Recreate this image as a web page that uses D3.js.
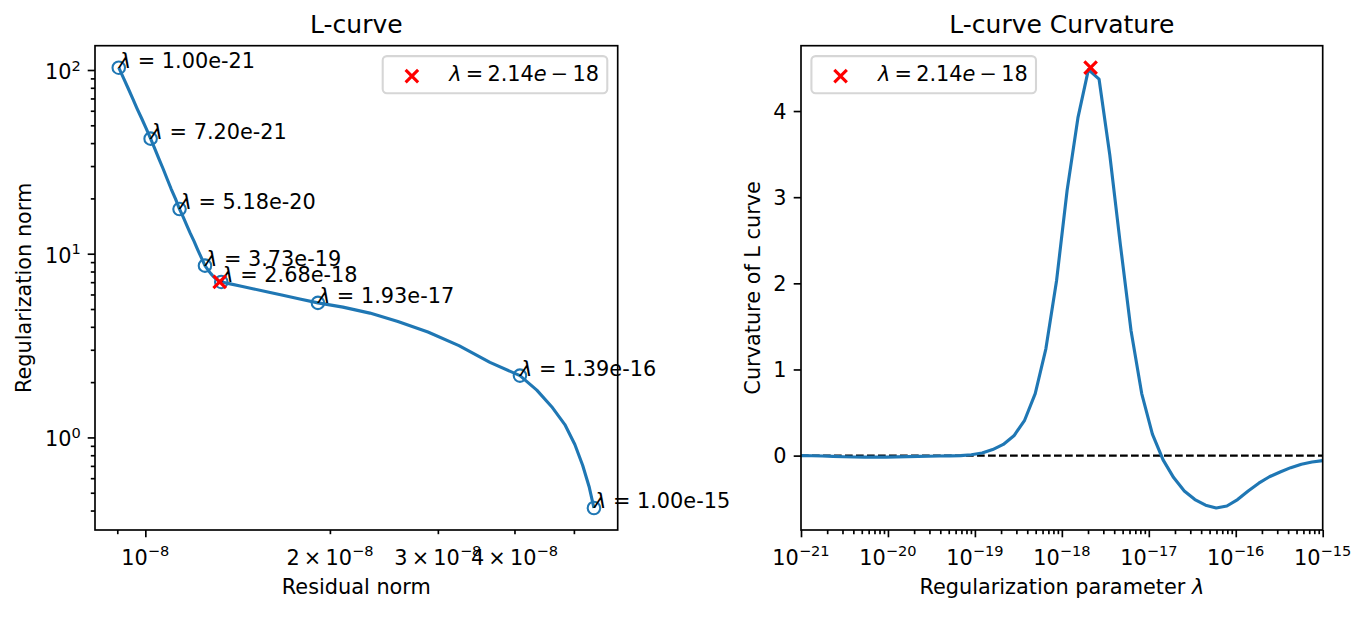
<!DOCTYPE html>
<html>
<head>
<meta charset="utf-8">
<script src="https://cdn.jsdelivr.net/npm/d3@7"></script>
<style>
  body { margin: 0; background: #fff; }
  svg text { font-family: "DejaVu Sans", sans-serif; fill: #000; white-space: pre; }
</style>
</head>
<body>
<svg id="chart" width="1367" height="617"></svg>
<script>
// regularization parameters, logspace(-21, -15, 50)
var lambdas = [
  1.00e-21, 1.33e-21, 1.76e-21, 2.33e-21, 3.09e-21, 4.09e-21, 5.43e-21, 7.20e-21, 9.54e-21, 1.26e-20,
  1.68e-20, 2.22e-20, 2.95e-20, 3.91e-20, 5.18e-20, 6.87e-20, 9.10e-20, 1.21e-19, 1.60e-19, 2.12e-19,
  2.81e-19, 3.73e-19, 4.94e-19, 6.55e-19, 8.69e-19, 1.15e-18, 1.53e-18, 2.02e-18, 2.68e-18, 3.56e-18,
  4.71e-18, 6.25e-18, 8.29e-18, 1.10e-17, 1.46e-17, 1.93e-17, 2.56e-17, 3.39e-17, 4.50e-17, 5.96e-17,
  7.91e-17, 1.05e-16, 1.39e-16, 1.84e-16, 2.44e-16, 3.24e-16, 4.29e-16, 5.69e-16, 7.54e-16, 1.00e-15
];

// L-curve: residual norm (x) and regularization norm (y)
var residualNorm = [
  9.05e-9, 9.21e-9, 9.37e-9, 9.53e-9, 9.69e-9, 9.86e-9, 1.003e-8, 1.020e-8, 1.036e-8, 1.052e-8,
  1.069e-8, 1.085e-8, 1.102e-8, 1.120e-8, 1.137e-8, 1.153e-8, 1.168e-8, 1.184e-8, 1.201e-8, 1.217e-8,
  1.234e-8, 1.251e-8, 1.266e-8, 1.279e-8, 1.292e-8, 1.303e-8, 1.313e-8, 1.321e-8, 1.330e-8, 1.376e-8,
  1.434e-8, 1.503e-8, 1.584e-8, 1.676e-8, 1.786e-8, 1.912e-8, 2.100e-8, 2.324e-8, 2.582e-8, 2.890e-8,
  3.247e-8, 3.648e-8, 4.083e-8, 4.350e-8, 4.600e-8, 4.833e-8, 5.018e-8, 5.167e-8, 5.293e-8, 5.391e-8
];
var regNorm = [
  102.9, 90.7, 79.8, 70.3, 61.9, 54.6, 48.1, 42.3, 37.3, 32.9,
  29.0, 25.6, 22.5, 19.9, 17.5, 15.8, 14.3, 12.9, 11.66, 10.54,
  9.52, 8.61, 8.13, 7.79, 7.50, 7.30, 7.16, 7.08, 7.02, 6.85,
  6.65, 6.43, 6.19, 5.94, 5.67, 5.40, 5.12, 4.75, 4.28, 3.75,
  3.16, 2.56, 2.17, 1.81, 1.47, 1.175, 0.915, 0.706, 0.541, 0.413
];

// curvature of the L-curve for each lambda
var curvature = [
  0.0, -0.002, -0.005, -0.009, -0.013, -0.016, -0.018, -0.018, -0.017, -0.015,
  -0.012, -0.009, -0.007, -0.005, -0.003, 0.0, 0.01, 0.03, 0.07, 0.13,
  0.23, 0.41, 0.72, 1.24, 2.03, 3.08, 3.92, 4.48, 4.37, 3.49,
  2.45, 1.45, 0.72, 0.25, -0.05, -0.255, -0.41, -0.51, -0.575, -0.608,
  -0.585, -0.51, -0.41, -0.32, -0.245, -0.19, -0.14, -0.10, -0.075, -0.058
];

// annotated points
var annotIdx = [0, 7, 14, 21, 28, 35, 42, 49];
var annotLabels = ["1.00e-21", "7.20e-21", "5.18e-20", "3.73e-19", "2.68e-18", "1.93e-17", "1.39e-16", "1.00e-15"];

// optimum
var bestLambda = 2.14e-18;
var bestResidual = 1.322e-8;
var bestReg = 7.02;
var bestCurv = 4.503;
var bestMant = "2.14", bestExp = "18";

// ticks
var leftXMajor = [1e-8];
var leftXMinor = [9e-9, 2e-8, 3e-8, 4e-8, 5e-8];
var leftXLabels = [1e-8, 2e-8, 3e-8, 4e-8];
var leftYMajor = [1, 10, 100];
var leftYMinor = [0.4, 0.5, 0.6, 0.7, 0.8, 0.9, 2, 3, 4, 5, 6, 7, 8, 9, 20, 30, 40, 50, 60, 70, 80, 90];
var rightXMajor = [1e-21, 1e-20, 1e-19, 1e-18, 1e-17, 1e-16, 1e-15];
var rightYMajor = [0, 1, 2, 3, 4];

var config = {
  fs: 20.83,
  titleFs: 25,
  blue: "#1f77b4",
  left: { x0: 95, x1: 617.7, y0: 45.7, y1: 530 },
  right: { x0: 801, x1: 1322.7, y0: 45.7, y1: 530 },
  majorLen: 7.3,
  minorLen: 4.2,
  pad: 7.3
};
var fs = config.fs;

var svg = d3.select("#chart");
svg.append("rect").attr("width", 1367).attr("height", 617).attr("fill", "#fff");

// log extent with matplotlib-like 5% margins
function logPad(vals) {
  var a = Math.log10(d3.min(vals)), b = Math.log10(d3.max(vals));
  var m = (b - a) * 0.05;
  return [Math.pow(10, a - m), Math.pow(10, b + m)];
}
function linPad(vals) {
  var a = d3.min(vals), b = d3.max(vals), m = (b - a) * 0.05;
  return [a - m, b + m];
}

var L = config.left, R = config.right;

var xL = d3.scaleLog().domain(logPad(residualNorm.concat([bestResidual]))).range([L.x0, L.x1]);
var yL = d3.scaleLog().domain(logPad(regNorm.concat([bestReg]))).range([L.y1, L.y0]);
var xR = d3.scaleLog().domain([lambdas[0], lambdas[lambdas.length - 1]]).range([R.x0, R.x1]);
var yR = d3.scaleLinear().domain(linPad(curvature.concat([bestCurv]))).range([R.y1, R.y0]);

var MINUS = "\u2212";

// 10^{exp} style label
function sciText(parent, x, y, anchor, mant, exp) {
  var t = parent.append("text").attr("x", x).attr("y", y)
    .attr("text-anchor", anchor).style("font-size", fs + "px");
  t.append("tspan").text((mant ? mant + "\u2009\u00d7\u2009" : "") + "10");
  t.append("tspan").attr("dy", -0.4 * fs).style("font-size", (0.7 * fs) + "px").text(exp);
  return t;
}

function expOf(v) { return Math.floor(Math.log10(v) + 1e-9); }
function expStr(e) { return (e < 0 ? MINUS : "") + Math.abs(e); }

function tickAxis(g, axis, tx, ty, len, vals) {
  var a = g.append("g").attr("transform", "translate(" + tx + "," + ty + ")")
    .attr("color", "#000")
    .call(axis.tickValues(vals).tickSize(len).tickFormat(""));
  a.select(".domain").remove();
  a.selectAll(".tick line").attr("stroke-width", 1.67);
}

function spines(g, b) {
  g.append("rect").attr("x", b.x0).attr("y", b.y0)
    .attr("width", b.x1 - b.x0).attr("height", b.y1 - b.y0)
    .attr("fill", "none").attr("stroke", "#000").attr("stroke-width", 1.67);
}

function xMarker(g, x, y) {
  var s = 6.25;
  g.append("path")
    .attr("d", "M" + (x - s) + "," + (y - s) + "L" + (x + s) + "," + (y + s) +
               "M" + (x - s) + "," + (y + s) + "L" + (x + s) + "," + (y - s))
    .attr("stroke", "red").attr("stroke-width", 3.1).attr("fill", "none");
}

function legend(g, anchorX, alignRight, top) {
  var bp = 0.4 * fs, hl = 2 * fs, htp = 0.8 * fs, h = 2 * bp + fs * 0.98;
  var lg = g.append("g");
  var box = lg.append("rect").attr("y", top).attr("height", h)
    .attr("rx", 4.2).attr("ry", 4.2)
    .attr("fill", "#fff").attr("fill-opacity", 0.8)
    .attr("stroke", "#d6d6d6").attr("stroke-width", 2.08);
  var t = lg.append("text").attr("y", top + 25).style("font-size", fs + "px");
  t.append("tspan").style("font-style", "italic").text("\u03bb");
  t.append("tspan").text("\u2009=\u2009" + bestMant);
  t.append("tspan").style("font-style", "italic").text("e");
  t.append("tspan").text("\u2009" + MINUS + "\u2009" + bestExp);
  var tw = t.node().getComputedTextLength();
  var w = bp + hl + htp + tw + bp;
  var x0 = alignRight ? anchorX - w : anchorX;
  box.attr("x", x0).attr("width", w);
  t.attr("x", x0 + bp + hl + htp);
  xMarker(lg, x0 + bp + hl / 2, top + 20);
}

// ---------------- left: L-curve ----------------
var gL = svg.append("g");

tickAxis(gL, d3.axisBottom(xL), 0, L.y1, config.majorLen, leftXMajor);
tickAxis(gL, d3.axisBottom(xL), 0, L.y1, config.minorLen, leftXMinor);
tickAxis(gL, d3.axisLeft(yL), L.x0, 0, config.majorLen, leftYMajor);
tickAxis(gL, d3.axisLeft(yL), L.x0, 0, config.minorLen, leftYMinor);

leftXLabels.forEach(function(v) {
  var e = expOf(v), m = Math.round(v / Math.pow(10, e));
  sciText(gL, xL(v), 564.5, "middle", m === 1 ? "" : String(m), expStr(e));
});
leftYMajor.forEach(function(v) {
  sciText(gL, L.x0 - config.majorLen - config.pad + 0.5, yL(v) + 9, "end", "", expStr(expOf(v)));
});

var lineL = d3.line()
  .x(function(d, i) { return xL(residualNorm[i]); })
  .y(function(d, i) { return yL(regNorm[i]); });

gL.append("path").datum(lambdas).attr("d", lineL)
  .attr("fill", "none").attr("stroke", config.blue).attr("stroke-width", 3.125)
  .attr("stroke-linejoin", "round");

gL.selectAll("circle.pt").data(annotIdx).enter().append("circle")
  .attr("class", "pt")
  .attr("cx", function(i) { return xL(residualNorm[i]); })
  .attr("cy", function(i) { return yL(regNorm[i]); })
  .attr("r", 6.25)
  .attr("fill", "none").attr("stroke", config.blue).attr("stroke-width", 2.08);

annotIdx.forEach(function(i, k) {
  var t = gL.append("text")
    .attr("x", xL(residualNorm[i])).attr("y", yL(regNorm[i]))
    .style("font-size", fs + "px");
  t.append("tspan").style("font-style", "italic").text("\u03bb");
  t.append("tspan").text(" = " + annotLabels[k]);
});

xMarker(gL, xL(bestResidual), yL(bestReg));
spines(gL, L);
legend(gL, L.x1 - 0.5 * fs, true, L.y0 + 0.5 * fs);

gL.append("text").attr("x", (L.x0 + L.x1) / 2).attr("y", 33)
  .attr("text-anchor", "middle").style("font-size", config.titleFs + "px").text("L-curve");
gL.append("text").attr("x", (L.x0 + L.x1) / 2).attr("y", 594)
  .attr("text-anchor", "middle").style("font-size", fs + "px").text("Residual norm");
gL.append("text").attr("transform", "translate(30.5," + ((L.y0 + L.y1) / 2) + ") rotate(-90)")
  .attr("text-anchor", "middle").style("font-size", fs + "px").text("Regularization norm");

// ---------------- right: curvature ----------------
var gR = svg.append("g");

var rightXMinor = [];
rightXMajor.slice(0, -1).forEach(function(v) {
  for (var k = 2; k <= 9; k++) rightXMinor.push(v * k);
});

tickAxis(gR, d3.axisBottom(xR), 0, R.y1, config.majorLen, rightXMajor);
tickAxis(gR, d3.axisBottom(xR), 0, R.y1, config.minorLen, rightXMinor);
tickAxis(gR, d3.axisLeft(yR), R.x0, 0, config.majorLen, rightYMajor);

rightXMajor.forEach(function(v) {
  sciText(gR, xR(v), 564.5, "middle", "", expStr(expOf(v)));
});
rightYMajor.forEach(function(v) {
  gR.append("text").attr("x", R.x0 - config.majorLen - config.pad)
    .attr("y", yR(v) + 7.5).attr("text-anchor", "end")
    .style("font-size", fs + "px").text(String(v));
});

gR.append("line")
  .attr("x1", R.x0).attr("x2", R.x1).attr("y1", yR(0)).attr("y2", yR(0))
  .attr("stroke", "#000").attr("stroke-width", 2.08).attr("stroke-dasharray", "7.7,3.3");

var lineR = d3.line()
  .x(function(d) { return xR(d); })
  .y(function(d, i) { return yR(curvature[i]); });

gR.append("path").datum(lambdas).attr("d", lineR)
  .attr("fill", "none").attr("stroke", config.blue).attr("stroke-width", 3.125)
  .attr("stroke-linejoin", "round");

xMarker(gR, xR(bestLambda), yR(bestCurv));
spines(gR, R);
legend(gR, R.x0 + 0.5 * fs, false, R.y0 + 0.5 * fs);

gR.append("text").attr("x", (R.x0 + R.x1) / 2).attr("y", 33)
  .attr("text-anchor", "middle").style("font-size", config.titleFs + "px").text("L-curve Curvature");
var xl = gR.append("text").attr("x", (R.x0 + R.x1) / 2).attr("y", 594)
  .attr("text-anchor", "middle").style("font-size", fs + "px");
xl.append("tspan").text("Regularization parameter ");
xl.append("tspan").style("font-style", "italic").text("\u03bb");
gR.append("text").attr("transform", "translate(760," + ((R.y0 + R.y1) / 2) + ") rotate(-90)")
  .attr("text-anchor", "middle").style("font-size", fs + "px").text("Curvature of L curve");
</script>
</body>
</html>
